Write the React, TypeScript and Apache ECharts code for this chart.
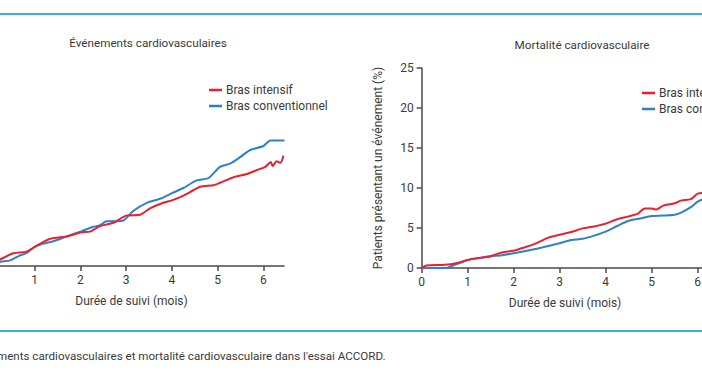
import React, { useEffect, useRef } from "react";
import * as echarts from "echarts";

const xTicks = [0, 1, 2, 3, 4, 5, 6];
const seriesNames = ["Bras intensif", "Bras conventionnel"];

const leftIntensifMonths = [0, 0.24, 0.53, 0.82, 1.0, 1.34, 1.7, 2.0, 2.21, 2.43, 2.72, 3.0, 3.3, 3.52, 3.81, 4.0, 4.25, 4.62, 4.91, 5.05, 5.35, 5.64, 5.86, 6.04, 6.16, 6.2, 6.29, 6.37, 6.44];
const leftIntensifValues = [0, 0.8, 1.6, 1.8, 2.4, 3.4, 3.7, 4.2, 4.3, 5.0, 5.4, 6.3, 6.4, 7.2, 7.9, 8.2, 8.8, 9.9, 10.1, 10.4, 11.1, 11.5, 12.0, 12.4, 13.0, 12.5, 13.1, 12.9, 13.8];

const leftConvMonths = [0, 0.24, 0.46, 0.68, 0.82, 1.0, 1.19, 1.41, 1.7, 2.0, 2.28, 2.43, 2.57, 2.79, 2.94, 3.16, 3.45, 3.74, 4.0, 4.25, 4.54, 4.8, 5.05, 5.27, 5.49, 5.71, 6.0, 6.15, 6.46];
const leftConvValues = [0, 0.5, 0.7, 1.33, 1.6, 2.4, 2.8, 3.1, 3.7, 4.3, 4.9, 5.1, 5.6, 5.6, 5.7, 6.9, 7.9, 8.4, 9.1, 9.75, 10.7, 11.0, 12.4, 12.8, 13.6, 14.5, 15.0, 15.7, 15.7];

const rightIntensifMonths = [0, 0.1, 0.5, 0.75, 1.0, 1.5, 1.75, 2.0, 2.25, 2.5, 2.75, 3.0, 3.25, 3.5, 3.75, 4.0, 4.25, 4.5, 4.7, 4.85, 5.0, 5.1, 5.25, 5.5, 5.65, 5.85, 6.0, 6.2, 6.45];
const rightIntensifValues = [0, 0.3, 0.4, 0.6, 1.0, 1.5, 1.95, 2.15, 2.6, 3.1, 3.8, 4.15, 4.5, 4.95, 5.2, 5.55, 6.1, 6.45, 6.8, 7.45, 7.45, 7.3, 7.8, 8.1, 8.45, 8.6, 9.3, 9.4, 9.8];

const rightConvMonths = [0, 0.5, 0.75, 1.0, 1.5, 1.75, 2.0, 2.5, 2.75, 3.0, 3.25, 3.5, 3.75, 4.0, 4.25, 4.5, 4.75, 5.0, 5.25, 5.5, 5.65, 5.85, 6.0, 6.2, 6.45];
const rightConvValues = [0, 0, 0.45, 1.0, 1.45, 1.6, 1.85, 2.4, 2.75, 3.1, 3.5, 3.65, 4.05, 4.55, 5.25, 5.9, 6.2, 6.5, 6.55, 6.65, 6.95, 7.6, 8.3, 8.8, 9.3];

const leftTitle = "Événements cardiovasculaires";
const rightTitle = "Mortalité cardiovasculaire";
const xName = "Durée de suivi (mois)";
const yName = "Patients présentant un événement (%)";
const caption = "ments cardiovasculaires et mortalité cardiovasculaire dans l'essai ACCORD.";

const zip = (xs: number[], ys: number[]) => xs.map((x, i) => [x, ys[i]]);

const FONT = "Roboto";
const TEXT = "#3a3a3a";
const AXIS = "#4a4a4a";
const RED = "#e8202f";
const BLUE = "#2f80c9";
const FRAME = "#3aaee3";
const OFF = 100; // inner chart offset

export default function App() {
  const ref = useRef<HTMLDivElement>(null);
  useEffect(() => {
    document.body.style.margin = "0";
    if (!ref.current) return;
    const chart = echarts.init(ref.current, undefined, { renderer: "svg" });
    const xAxisBase = (gridIndex: number, showZeroLabel: boolean) => ({
      type: "value",
      gridIndex,
      min: 0,
      max: 6.45,
      interval: 1,
      name: xName,
      nameLocation: "middle",
      nameGap: 29,
      nameTextStyle: { fontFamily: FONT, fontSize: 12, color: TEXT, padding: [0, 10, 0, 0] },
      axisLine: { show: true, lineStyle: { color: AXIS, width: 1.5 } },
      axisTick: { show: true, length: 5, lineStyle: { color: AXIS, width: 1.5 }, customValues: xTicks },
      axisLabel: {
        fontFamily: FONT, fontSize: 12, color: TEXT, margin: 8,
        customValues: showZeroLabel ? xTicks : xTicks.slice(1),
      },
      splitLine: { show: false },
    });
    const lineSeries = (name: string, color: string, idx: number, data: number[][]) => ({
      type: "line",
      name,
      xAxisIndex: idx,
      yAxisIndex: idx,
      data,
      showSymbol: false,
      smooth: 0.25,
      lineStyle: { color, width: 2 },
      itemStyle: { color },
      z: name === seriesNames[0] ? 3 : 2,
    });
    const legendBase = {
      orient: "vertical",
      icon: "rect",
      itemWidth: 13,
      itemHeight: 2.5,
      itemGap: 2,
      padding: 0,
      data: seriesNames,
      textStyle: { fontFamily: FONT, fontSize: 12, color: TEXT, lineHeight: 14, padding: [0, 0, 0, -1] },
      selectedMode: false,
    };
    const titleStyle = { fontFamily: FONT, fontSize: 11.7, fontWeight: "normal", color: TEXT };
    chart.setOption({
      animation: false,
      backgroundColor: "#ffffff",
      title: [
        { text: leftTitle, left: 148 + OFF, top: 37, padding: 0, textAlign: "center", textStyle: titleStyle },
        { text: rightTitle, left: 582 + OFF, top: 39, padding: 0, textAlign: "center", textStyle: titleStyle },
      ],
      legend: [
        { ...legendBase, left: 209 + OFF, top: 83 },
        { ...legendBase, left: 642 + OFF, top: 86 },
      ],
      grid: [
        { left: 89, top: 66, width: 295, height: 200 },
        { left: 421.7 + OFF, top: 68, width: 296.7, height: 200 },
      ],
      xAxis: [xAxisBase(0, false), xAxisBase(1, true)],
      yAxis: [
        {
          type: "value", gridIndex: 0, min: 0, max: 25, interval: 5,
          axisLine: { show: false }, axisTick: { show: false }, axisLabel: { show: false }, splitLine: { show: false },
        },
        {
          type: "value", gridIndex: 1, min: 0, max: 25, interval: 5,
          name: yName, nameLocation: "middle", nameGap: 38,
          nameTextStyle: { fontFamily: FONT, fontSize: 12, color: TEXT },
          axisLine: { show: true, lineStyle: { color: AXIS, width: 1.5 } },
          axisTick: { show: true, inside: false, length: 5, lineStyle: { color: AXIS, width: 1.5 } },
          axisLabel: { fontFamily: FONT, fontSize: 12, color: TEXT, margin: 8 },
          splitLine: { show: false },
        },
      ],
      series: [
        lineSeries(seriesNames[1], BLUE, 0, zip(leftConvMonths, leftConvValues)),
        lineSeries(seriesNames[0], RED, 0, zip(leftIntensifMonths, leftIntensifValues)),
        lineSeries(seriesNames[1], BLUE, 1, zip(rightConvMonths, rightConvValues)),
        lineSeries(seriesNames[0], RED, 1, zip(rightIntensifMonths, rightIntensifValues)),
      ],
      graphic: [
        { type: "line", shape: { x1: OFF, y1: 14, x2: OFF + 702, y2: 14 }, style: { stroke: FRAME, lineWidth: 2 } },
        { type: "line", shape: { x1: OFF, y1: 331, x2: OFF + 702, y2: 331 }, style: { stroke: FRAME, lineWidth: 2 } },
        {
          type: "text", x: OFF - 3, y: 356,
          style: { text: caption, fontFamily: FONT, fontSize: 11.6, fill: TEXT, verticalAlign: "middle" },
        },
      ],
    });
    return () => chart.dispose();
  }, []);
  return (
    <div style={{ position: "relative", width: 702, height: 370, overflow: "hidden", background: "#fff" }}>
      <div ref={ref} style={{ position: "absolute", left: -OFF, top: 0, width: 900, height: 370 }} />
    </div>
  );
}
